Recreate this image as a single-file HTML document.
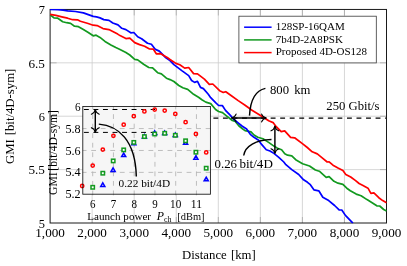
<!DOCTYPE html>
<html><head><meta charset="utf-8"><title>GMI vs distance</title>
<style>html,body{margin:0;padding:0;background:#fff}body{width:407px;height:266px;overflow:hidden}svg{display:block}text{font-family:"Liberation Serif",serif;fill:#000}svg{will-change:transform;filter:grayscale(0%)}</style>
</head><body>
<svg width="407" height="266" viewBox="0 0 407 266">
<rect width="407" height="266" fill="#fff"/>
<g stroke="#cdcdcd" stroke-width="0.8" fill="none">
<line x1="92.15" y1="9.45" x2="92.15" y2="223.0"/>
<line x1="134.20" y1="9.45" x2="134.20" y2="223.0"/>
<line x1="176.25" y1="9.45" x2="176.25" y2="223.0"/>
<line x1="218.30" y1="9.45" x2="218.30" y2="223.0"/>
<line x1="260.35" y1="9.45" x2="260.35" y2="223.0"/>
<line x1="302.40" y1="9.45" x2="302.40" y2="223.0"/>
<line x1="344.45" y1="9.45" x2="344.45" y2="223.0"/>
<line x1="50.1" y1="169.61" x2="386.5" y2="169.61"/>
<line x1="50.1" y1="116.22" x2="386.5" y2="116.22"/>
<line x1="50.1" y1="62.84" x2="386.5" y2="62.84"/>
</g>
<g stroke="#959595" stroke-width="0.6" fill="none">
<line x1="92.15" y1="9.45" x2="92.15" y2="15.45"/>
<line x1="92.15" y1="223.0" x2="92.15" y2="217.0"/>
<line x1="134.20" y1="9.45" x2="134.20" y2="15.45"/>
<line x1="134.20" y1="223.0" x2="134.20" y2="217.0"/>
<line x1="176.25" y1="9.45" x2="176.25" y2="15.45"/>
<line x1="176.25" y1="223.0" x2="176.25" y2="217.0"/>
<line x1="218.30" y1="9.45" x2="218.30" y2="15.45"/>
<line x1="218.30" y1="223.0" x2="218.30" y2="217.0"/>
<line x1="260.35" y1="9.45" x2="260.35" y2="15.45"/>
<line x1="260.35" y1="223.0" x2="260.35" y2="217.0"/>
<line x1="302.40" y1="9.45" x2="302.40" y2="15.45"/>
<line x1="302.40" y1="223.0" x2="302.40" y2="217.0"/>
<line x1="344.45" y1="9.45" x2="344.45" y2="15.45"/>
<line x1="344.45" y1="223.0" x2="344.45" y2="217.0"/>
<line x1="50.1" y1="169.61" x2="56.6" y2="169.61"/>
<line x1="386.5" y1="169.61" x2="380.0" y2="169.61"/>
<line x1="50.1" y1="116.22" x2="56.6" y2="116.22"/>
<line x1="386.5" y1="116.22" x2="380.0" y2="116.22"/>
<line x1="50.1" y1="62.84" x2="56.6" y2="62.84"/>
<line x1="386.5" y1="62.84" x2="380.0" y2="62.84"/>
</g>
<clipPath id="cp"><rect x="49.7" y="8.95" width="337.2" height="214.45000000000002"/></clipPath>
<line x1="213.4" y1="118.05" x2="386.5" y2="118.05" stroke="#000" stroke-width="1.3" stroke-dasharray="4.9 4.64"/>
<rect x="50.1" y="9.45" width="336.4" height="213.55" fill="none" stroke="#1a1a1a" stroke-width="1"/>
<g fill="none" stroke-linejoin="round" clip-path="url(#cp)">
<polyline points="50.1,14.9 53.9,17.8 57.8,18.2 62.7,21.7 66.7,22.7 70.6,23.4 74.5,26.2 78.5,26.7 83.4,29.6 88.3,32.5 93.2,35.8 96.1,35.2 100.0,37.4 105.0,41.4 110.9,44.9 115.8,47.6 120.0,49.5 125.9,52.5 129.8,55.0 134.7,59.3 137.7,59.9 143.6,64.3 148.8,67.5 152.6,67.8 157.6,72.7 161.4,73.9 166.4,78.2 170.0,79.6 173.9,81.5 178.8,85.5 182.8,87.8 187.7,89.4 193.6,94.3 198.5,97.3 201.9,99.7 205.8,102.1 210.7,103.6 215.6,109.5 218.6,111.5 222.5,112.6 227.4,116.6 232.3,120.5 235.3,121.4 239.0,126.0 242.8,129.0 245.0,130.6 251.0,131.8 254.0,135.0 257.8,137.3 263.0,138.8 269.0,142.6 273.9,146.1 277.5,148.2 281.6,149.7 284.8,153.8 287.6,155.2 291.8,155.8 295.7,159.7 302.6,163.7 309.5,166.0 315.4,170.0 319.3,171.2 326.2,177.3 329.1,176.6 334.0,181.3 338.0,183.2 342.9,184.4 346.8,188.2 350.3,190.8 356.2,194.1 361.1,195.7 367.0,199.6 372.9,203.2 376.8,205.8 379.7,206.0 383.7,209.5 386.5,210.9" stroke="#12991f" stroke-width="1.7"/>
<polyline points="50.1,9.5 58.0,9.7 63.0,10.2 67.6,10.8 75.5,11.5 83.4,12.9 88.3,14.6 93.2,16.4 96.5,16.9 100.0,17.9 103.8,19.6 109.0,20.4 112.8,23.0 118.0,24.9 121.8,28.3 125.9,29.6 130.8,32.8 133.8,32.5 137.7,36.8 141.6,38.7 147.5,43.2 151.4,44.3 155.4,49.4 159.3,51.1 165.2,57.2 170.0,60.6 173.9,64.6 181.8,70.6 188.7,75.6 191.6,80.5 194.6,82.4 197.5,81.3 200.5,87.4 203.4,88.6 208.3,94.3 210.7,97.7 215.6,102.7 218.6,105.5 222.5,105.7 225.5,110.4 230.4,115.4 233.0,118.5 237.5,122.3 242.0,126.0 246.6,129.0 250.3,134.3 254.0,137.3 258.6,140.3 261.6,144.4 266.3,149.8 270.0,151.0 273.9,153.4 278.8,157.3 283.8,162.0 285.9,164.7 291.8,169.6 298.7,174.5 303.6,179.8 307.5,182.3 310.0,184.3 313.9,189.8 318.8,190.8 322.8,197.3 328.7,200.6 334.6,205.5 339.1,209.8 341.8,210.0 345.4,215.4 352.9,223.2" stroke="#0000ff" stroke-width="1.7"/>
<polyline points="50.1,14.3 55.9,15.4 61.8,16.8 67.6,18.2 72.6,19.7 77.5,19.8 80.4,21.3 87.3,23.3 93.2,25.2 97.1,25.6 103.0,28.6 108.9,29.6 112.8,31.5 117.7,34.1 120.0,35.6 125.9,38.6 129.8,38.2 134.7,42.6 139.6,44.6 144.6,46.2 149.5,49.0 153.4,49.2 156.3,53.8 160.3,53.6 167.2,57.4 170.0,59.5 175.9,63.4 179.8,64.8 184.7,68.1 188.7,67.5 193.6,73.6 197.5,73.8 204.4,79.2 209.3,84.4 212.8,84.0 219.6,90.7 223.3,92.4 225.8,91.7 231.4,95.7 238.2,100.6 245.1,105.2 252.0,110.3 258.9,114.5 264.8,118.2 268.7,120.8 273.1,122.6 276.0,126.4 281.2,131.6 284.7,130.9 290.6,137.4 294.6,137.8 302.4,143.6 307.3,147.5 312.2,151.8 317.3,153.9 322.2,157.8 327.2,162.0 329.1,161.8 333.0,165.2 338.0,168.0 342.9,170.6 345.8,174.4 350.7,177.0 355.6,180.6 359.1,183.5 363.0,185.5 368.0,188.2 370.9,193.3 373.9,192.9 378.8,197.7 382.7,200.6 386.5,202.7" stroke="#ff0000" stroke-width="1.7"/>
</g>
<defs>
<marker id="ah" viewBox="-6 -5 8 10" markerWidth="8" markerHeight="10" refX="0" refY="0" orient="auto-start-reverse" markerUnits="userSpaceOnUse"><path d="M-4.5,-3.9 C-3.7,-1.7 -2.0,-0.45 0.2,0 C-2.0,0.45 -3.7,1.7 -4.5,3.9" fill="none" stroke="#000" stroke-width="1.15" stroke-linecap="round" stroke-linejoin="round"/></marker>
</defs>
<g fill="none" stroke="#000" stroke-width="1.45">
<line x1="231.6" y1="118.0" x2="266.1" y2="118.0" marker-start="url(#ah)" marker-end="url(#ah)"/>
<line x1="274.9" y1="126.3" x2="274.9" y2="153.3" marker-start="url(#ah)" marker-end="url(#ah)"/>
<path d="M249.5,115.6 C250.3,101 255.5,90.5 265.4,88.4"/>
<path d="M243.7,155.5 C245,146 256,139.8 271.5,139.5"/>
</g>
<g font-size="12.7">
<text x="270.0" y="93.7">800</text><text x="294.2" y="93.7">km</text>
<text x="326.3" y="109.7">250 Gbit/s</text>
<text x="214.5" y="168.3" font-size="12.9">0.26</text><text x="239.4" y="168.3" font-size="13.1">bit/4D</text>
</g>
<rect x="238.9" y="16.2" width="137.4" height="46.7" fill="#fff" stroke="#3a3a3a" stroke-width="0.8"/>
<line x1="244.1" y1="27.2" x2="271.6" y2="27.2" stroke="#0000ff" stroke-width="1.5"/>
<text x="275.7" y="30.1" font-size="11">128SP-16QAM</text>
<line x1="244.1" y1="39.9" x2="271.6" y2="39.9" stroke="#12991f" stroke-width="1.5"/>
<text x="275.7" y="42.6" font-size="11">7b4D-2A8PSK</text>
<line x1="244.1" y1="52.6" x2="271.6" y2="52.6" stroke="#ff0000" stroke-width="1.5"/>
<text x="275.7" y="55.0" font-size="11">Proposed 4D-OS128</text>
<rect x="82.8" y="106.55" width="127.60000000000001" height="87.64999999999999" fill="#f6f6f6"/>
<g stroke="#b4b4b4" stroke-width="0.85" stroke-dasharray="4.8 4.74" fill="none">
<line x1="92.70" y1="195.3" x2="92.70" y2="106.55"/>
<line x1="113.45" y1="195.3" x2="113.45" y2="106.55"/>
<line x1="134.20" y1="195.3" x2="134.20" y2="106.55"/>
<line x1="154.95" y1="195.3" x2="154.95" y2="106.55"/>
<line x1="175.70" y1="195.3" x2="175.70" y2="106.55"/>
<line x1="196.45" y1="195.3" x2="196.45" y2="106.55"/>
<line x1="210.5" y1="172.39" x2="82.8" y2="172.39"/>
<line x1="210.5" y1="150.48" x2="82.8" y2="150.48"/>
<line x1="210.5" y1="128.56" x2="82.8" y2="128.56"/>
</g>
<g stroke="#000" stroke-width="1.0" stroke-dasharray="4.9 4.64" fill="none">
<line x1="83.9" y1="109.5" x2="155" y2="109.5"/>
<line x1="83.9" y1="132.4" x2="155" y2="132.4"/>
</g>
<clipPath id="ci"><rect x="78.8" y="106.55" width="135.60000000000002" height="87.64999999999999"/></clipPath>
<g fill="none" stroke-width="1.5">
<path d="M102.80,182.85 L104.85,186.40 L100.75,186.40 Z" stroke="#0000ff"/>
<path d="M113.10,167.85 L115.15,171.40 L111.05,171.40 Z" stroke="#0000ff"/>
<path d="M123.70,153.05 L125.75,156.60 L121.65,156.60 Z" stroke="#0000ff"/>
<path d="M133.80,141.25 L135.85,144.80 L131.75,144.80 Z" stroke="#0000ff"/>
<path d="M144.40,134.55 L146.45,138.10 L142.35,138.10 Z" stroke="#0000ff"/>
<path d="M154.70,130.85 L156.75,134.40 L152.65,134.40 Z" stroke="#0000ff"/>
<path d="M164.70,131.05 L166.75,134.60 L162.65,134.60 Z" stroke="#0000ff"/>
<path d="M175.30,132.95 L177.35,136.50 L173.25,136.50 Z" stroke="#0000ff"/>
<path d="M185.60,140.75 L187.65,144.30 L183.55,144.30 Z" stroke="#0000ff"/>
<path d="M195.90,155.65 L197.95,159.20 L193.85,159.20 Z" stroke="#0000ff"/>
<path d="M206.20,177.25 L208.25,180.80 L204.15,180.80 Z" stroke="#0000ff"/>
<rect x="91.00" y="185.60" width="3.4" height="3.4" fill="#fff" stroke="#12991f"/>
<rect x="101.10" y="171.50" width="3.4" height="3.4" fill="#fff" stroke="#12991f"/>
<rect x="111.50" y="159.20" width="3.4" height="3.4" fill="#fff" stroke="#12991f"/>
<rect x="122.00" y="148.20" width="3.4" height="3.4" fill="#fff" stroke="#12991f"/>
<rect x="132.10" y="140.70" width="3.4" height="3.4" fill="#fff" stroke="#12991f"/>
<rect x="142.70" y="134.90" width="3.4" height="3.4" fill="#fff" stroke="#12991f"/>
<rect x="153.00" y="132.30" width="3.4" height="3.4" fill="#fff" stroke="#12991f"/>
<rect x="163.00" y="131.60" width="3.4" height="3.4" fill="#fff" stroke="#12991f"/>
<rect x="173.60" y="133.60" width="3.4" height="3.4" fill="#fff" stroke="#12991f"/>
<rect x="183.90" y="139.10" width="3.4" height="3.4" fill="#fff" stroke="#12991f"/>
<rect x="194.20" y="150.50" width="3.4" height="3.4" fill="#fff" stroke="#12991f"/>
<rect x="204.50" y="166.50" width="3.4" height="3.4" fill="#fff" stroke="#12991f"/>
<circle cx="82.2" cy="186.0" r="1.65" stroke="#ff0000"/>
<circle cx="92.7" cy="165.6" r="1.65" stroke="#ff0000"/>
<circle cx="102.8" cy="149.6" r="1.65" stroke="#ff0000"/>
<circle cx="113.4" cy="135.8" r="1.65" stroke="#ff0000"/>
<circle cx="123.7" cy="124.7" r="1.65" stroke="#ff0000"/>
<circle cx="133.8" cy="116.2" r="1.65" stroke="#ff0000"/>
<circle cx="144.4" cy="111.4" r="1.65" stroke="#ff0000"/>
<circle cx="154.7" cy="109.6" r="1.65" stroke="#ff0000"/>
<circle cx="164.7" cy="110.6" r="1.65" stroke="#ff0000"/>
<circle cx="175.3" cy="113.9" r="1.65" stroke="#ff0000"/>
<circle cx="185.6" cy="122.2" r="1.65" stroke="#ff0000"/>
<circle cx="195.9" cy="134.0" r="1.65" stroke="#ff0000"/>
<circle cx="206.2" cy="152.4" r="1.65" stroke="#ff0000"/>
</g>
<rect x="82.8" y="106.55" width="127.60000000000001" height="87.64999999999999" fill="none" stroke="#111" stroke-width="0.85"/>
<g fill="none" stroke="#000" stroke-width="1.45">
<line x1="95.3" y1="109.7" x2="95.3" y2="132.2" marker-start="url(#ah)" marker-end="url(#ah)"/>
<path d="M98.8,124.1 C118,125.5 135.5,140 136.3,176.4"/>
</g>
<text x="118.6" y="187.3" font-size="11.3">0.22 bit/4D</text>
<g font-size="13.5" fill="#111">
<text x="50.10" y="237.3" text-anchor="middle" textLength="29.6" lengthAdjust="spacingAndGlyphs">1,000</text>
<text x="92.15" y="237.3" text-anchor="middle" textLength="29.6" lengthAdjust="spacingAndGlyphs">2,000</text>
<text x="134.20" y="237.3" text-anchor="middle" textLength="29.6" lengthAdjust="spacingAndGlyphs">3,000</text>
<text x="176.25" y="237.3" text-anchor="middle" textLength="29.6" lengthAdjust="spacingAndGlyphs">4,000</text>
<text x="218.30" y="237.3" text-anchor="middle" textLength="29.6" lengthAdjust="spacingAndGlyphs">5,000</text>
<text x="260.35" y="237.3" text-anchor="middle" textLength="29.6" lengthAdjust="spacingAndGlyphs">6,000</text>
<text x="302.40" y="237.3" text-anchor="middle" textLength="29.6" lengthAdjust="spacingAndGlyphs">7,000</text>
<text x="344.45" y="237.3" text-anchor="middle" textLength="29.6" lengthAdjust="spacingAndGlyphs">8,000</text>
<text x="386.50" y="237.3" text-anchor="middle" textLength="29.6" lengthAdjust="spacingAndGlyphs">9,000</text>
<text x="44.9" y="227.70" text-anchor="end" textLength="6.2" lengthAdjust="spacingAndGlyphs">5</text>
<text x="44.9" y="174.31" text-anchor="end" textLength="16.5" lengthAdjust="spacingAndGlyphs">5.5</text>
<text x="44.9" y="120.92" text-anchor="end" textLength="6.2" lengthAdjust="spacingAndGlyphs">6</text>
<text x="44.9" y="67.54" text-anchor="end" textLength="16.5" lengthAdjust="spacingAndGlyphs">6.5</text>
<text x="44.9" y="14.15" text-anchor="end" textLength="6.2" lengthAdjust="spacingAndGlyphs">7</text>
</g>
<text x="182.1" y="258.8" font-size="12.75">Distance</text><text x="230.9" y="258.8" font-size="12.75">[km]</text>
<text transform="translate(14.4,164.0) rotate(-90)" font-size="12.75">GMI</text><text transform="translate(14.4,68.7) rotate(-90)" font-size="12.75" text-anchor="end">[bit/4D-sym]</text>
<g font-size="11.9">
<text x="92.70" y="207.6" text-anchor="middle" textLength="5.5" lengthAdjust="spacingAndGlyphs">6</text>
<text x="113.45" y="207.6" text-anchor="middle" textLength="5.5" lengthAdjust="spacingAndGlyphs">7</text>
<text x="134.20" y="207.6" text-anchor="middle" textLength="5.5" lengthAdjust="spacingAndGlyphs">8</text>
<text x="154.95" y="207.6" text-anchor="middle" textLength="5.5" lengthAdjust="spacingAndGlyphs">9</text>
<text x="175.70" y="207.6" text-anchor="middle" textLength="11.2" lengthAdjust="spacingAndGlyphs">10</text>
<text x="196.45" y="207.6" text-anchor="middle" textLength="11.2" lengthAdjust="spacingAndGlyphs">11</text>
<text x="80.7" y="198.40" text-anchor="end" textLength="15.2" lengthAdjust="spacingAndGlyphs">5.2</text>
<text x="80.7" y="176.49" text-anchor="end" textLength="15.2" lengthAdjust="spacingAndGlyphs">5.4</text>
<text x="80.7" y="154.58" text-anchor="end" textLength="15.2" lengthAdjust="spacingAndGlyphs">5.6</text>
<text x="80.7" y="132.66" text-anchor="end" textLength="15.2" lengthAdjust="spacingAndGlyphs">5.8</text>
<text x="80.7" y="110.75" text-anchor="end" textLength="5.6" lengthAdjust="spacingAndGlyphs">6</text>
</g>
<text x="87.3" y="219.8" font-size="11.1">Launch power</text>
<text x="156.8" y="219.8" font-size="11.8" font-style="italic">P</text>
<text x="164" y="221.8" font-size="7.8">ch</text>
<text x="177.3" y="219.8" font-size="11.1" textLength="27.2" lengthAdjust="spacingAndGlyphs">[dBm]</text>
<text transform="translate(57.3,194.9) rotate(-90)" font-size="11.6">GMI</text><text transform="translate(57.3,110.1) rotate(-90)" font-size="11.6" text-anchor="end">[bit/4D-sym]</text>
</svg></body></html>
